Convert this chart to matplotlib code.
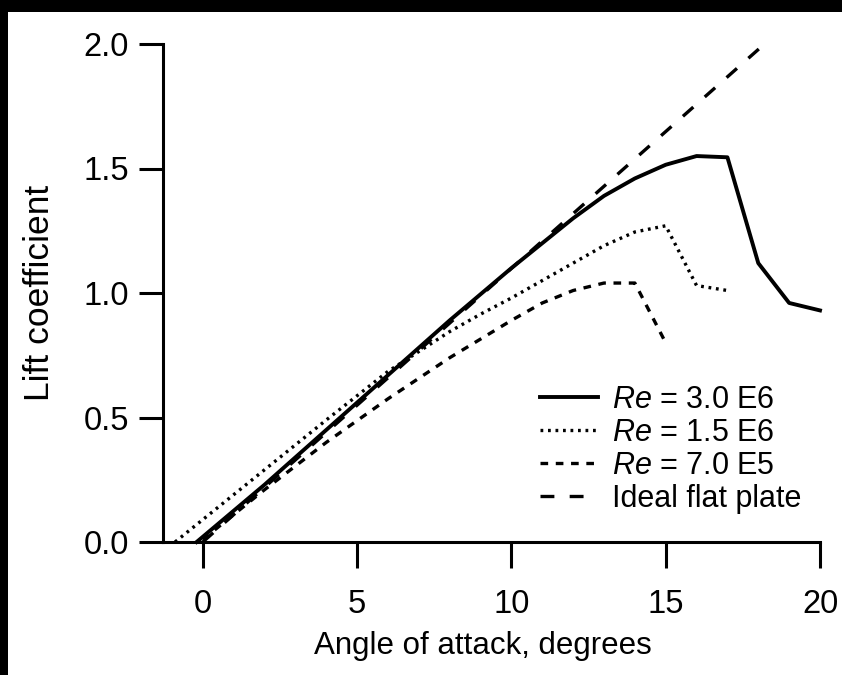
import matplotlib
matplotlib.use("Agg")
import matplotlib.pyplot as plt
from matplotlib.patches import Rectangle

plt.rcParams['font.family'] = ['Liberation Sans', 'DejaVu Sans']
plt.rcParams['mathtext.fontset'] = 'custom'
plt.rcParams['mathtext.it'] = 'Liberation Sans:italic'
plt.rcParams['mathtext.rm'] = 'Liberation Sans'
plt.rcParams['lines.scale_dashes'] = False

# Re = 3.0 E6
aoa_30e6 = [-0.2, 2, 4, 6, 8, 10, 11, 12, 13, 14, 15, 16, 17, 18, 19, 20]
cl_30e6 = [0.0, 0.23, 0.45, 0.67, 0.89, 1.10, 1.20, 1.30, 1.39, 1.46, 1.515, 1.55, 1.545, 1.12, 0.96, 0.93]

# Re = 1.5 E6
aoa_15e6 = [-0.9, 2, 4, 6, 8, 9, 10, 11, 12, 13, 14, 15, 16, 17]
cl_15e6 = [0.0, 0.29, 0.49, 0.685, 0.845, 0.915, 0.98, 1.05, 1.12, 1.19, 1.245, 1.27, 1.03, 1.01]

# Re = 7.0 E5
aoa_70e5 = [0, 2, 4, 6, 8, 10, 11, 12, 13, 14, 15]
cl_70e5 = [0.01, 0.21, 0.40, 0.575, 0.74, 0.89, 0.96, 1.01, 1.04, 1.04, 0.80]

# Ideal flat plate
aoa_flat = [0, 18.2]
cl_flat = [0.0, 2.0]

labels = [r"$\mathit{Re}$ = 3.0 E6", r"$\mathit{Re}$ = 1.5 E6",
          r"$\mathit{Re}$ = 7.0 E5", "Ideal flat plate"]
xticks = [0, 5, 10, 15, 20]
yticks = [0.0, 0.5, 1.0, 1.5, 2.0]

W, H = 842, 675
fig = plt.figure(figsize=(W / 100, H / 100), dpi=100, facecolor='white')
# black scan border (top and left)
fig.patches.append(Rectangle((0, 1 - 12 / H), 1, 12 / H, transform=fig.transFigure,
                             facecolor='black', edgecolor='none', zorder=-10))
fig.patches.append(Rectangle((0, 0), 8 / W, 1, transform=fig.transFigure,
                             facecolor='black', edgecolor='none', zorder=-10))

ax_l, ax_r, ax_t, ax_b = 163, 820, 44, 542
aw, ah = ax_r - ax_l, ax_b - ax_t
ax = fig.add_axes([ax_l / W, 1 - ax_b / H, aw / W, ah / H])
ax.set_facecolor('none')

ax.plot(aoa_30e6, cl_30e6, color='black', lw=2.8, solid_joinstyle='round',
        clip_on=False, label=labels[0])
ax.plot(aoa_15e6, cl_15e6, color='black', lw=2.4, linestyle=(0, (2.0, 3.4)),
        dash_capstyle='butt', clip_on=False, label=labels[1])
ax.plot(aoa_70e5, cl_70e5, color='black', lw=2.4, linestyle=(0, (5.5, 5.5)),
        dash_capstyle='butt', clip_on=False, label=labels[2])
ax.plot(aoa_flat, cl_flat, color='black', lw=2.4, linestyle=(0, (10, 11)),
        dash_capstyle='butt', clip_on=False, label=labels[3])

ax.set_xlim(-1.29, 20)
ax.set_ylim(0, 2.0)
ax.set_xticks(xticks)
ax.set_xticklabels([str(t) for t in xticks])
ax.set_yticks(yticks)
ax.set_yticklabels([f"{t:.1f}" for t in yticks])

for s in ['top', 'right']:
    ax.spines[s].set_visible(False)
for s in ['left', 'bottom']:
    ax.spines[s].set_linewidth(2.2)
ax.tick_params(axis='y', direction='out', length=17.5, width=2.2, pad=7, labelsize=23.5)
ax.tick_params(axis='x', direction='out', length=18.5, width=2.2, pad=15, labelsize=23.5)

ax.set_xlabel("Angle of attack, degrees", fontsize=22.5, va='top')
ax.xaxis.set_label_coords((483 - ax_l) / aw, (ax_b - 631) / ah)
ax.set_ylabel("Lift coefficient", fontsize=25.5, va='center')
ax.yaxis.set_label_coords((40 - ax_l) / aw, 0.5)

leg = ax.legend(loc='upper left', bbox_to_anchor=((540 - ax_l) / aw, (ax_b - 385) / ah),
                frameon=False, fontsize=22, handlelength=1.9, handletextpad=0.45,
                labelspacing=0.1, borderpad=0, borderaxespad=0)

fig.savefig("out.png", dpi=100, facecolor='white')
